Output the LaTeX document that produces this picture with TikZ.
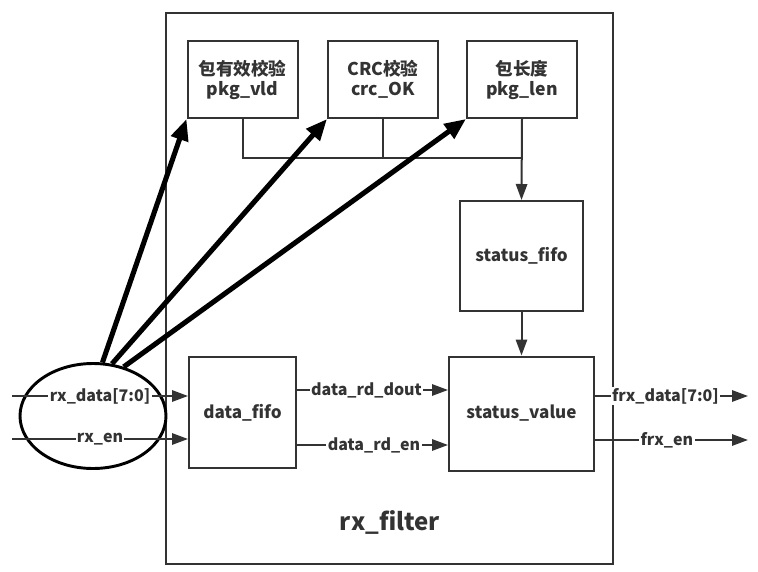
\documentclass[tikz,border=0pt]{standalone}
\usepackage{fontspec}
\setmainfont{Noto Sans CJK SC}
\usetikzlibrary{arrows.meta,shapes.geometric}
\definecolor{ink}{HTML}{333333}

\begin{document}
\begin{tikzpicture}[
    x=0.75pt, y=-0.75pt,
    font=\bfseries, text=ink,
    blk/.style={draw=ink, line width=1.5pt, align=center, inner sep=0pt,
        font=\bfseries\fontsize{12.8}{15}\selectfont},
    chk/.style={blk, minimum width=82.5pt, minimum height=57.75pt,
        font=\bfseries\fontsize{13.2}{15}\selectfont},
    bus/.style={draw=ink, line width=1.5pt},
    sig/.style={bus, -{Triangle[length=12pt,width=8.5pt]}},
    fat/.style={draw=black, line width=3.8pt, -{Triangle[length=16pt,width=13pt]}},
    lbl/.style={fill=white, inner sep=1pt, font=\bfseries\fontsize{12}{14}\selectfont},
]
\useasboundingbox (0,0) rectangle (758,572);

\node[draw=ink, line width=1.5pt, minimum width=335.25pt, minimum height=413.25pt] (filter) at (389.5,288.5) {};
\node[font=\bfseries\fontsize{18}{20}\selectfont] (title) at (390,522) {rx\_filter};

\node[chk] (vld) at (242.5,79.5) {包有效校验\\pkg\_vld};
\node[chk] (crc) at (383,79.5) {CRC校验\\crc\_OK};
\node[chk] (len) at (522,79.5) {包长度\\pkg\_len};

\node[blk, minimum width=92.25pt, minimum height=82.5pt] (sfifo) at (521.5,256) {status\_fifo};
\node[blk, minimum width=108.75pt, minimum height=85.5pt] (sval) at (521.5,413.5) {status\_value};
\node[blk, minimum width=80.25pt, minimum height=83.25pt] (dfifo) at (242.5,412.5) {data\_fifo};

\node[draw=black, ellipse, line width=2.2pt, minimum width=109.5pt, minimum height=78.75pt] (rx) at (93,416) {};

% status bus
\coordinate (tap) at (522,158);
\draw[bus] (vld.south) |- (tap);
\draw[bus] (crc.south) -- (crc.south |- tap);
\draw[sig] (len.south) -- (sfifo.north);
\draw[sig] (sfifo.south) -- (sval.north);

% checks fed from rx
\draw[fat] (rx.80) -- (vld.south west);
\draw[fat] (rx.70) -- (crc.south west);
\draw[fat] (rx.58) -- (len.south west);

% data path
\coordinate (rxd) at (12,396);
\coordinate (rxe) at (12,439);
\coordinate (rdd) at (0,390);
\coordinate (rde) at (0,445);
\coordinate (frxd) at (748,396);
\coordinate (frxe) at (748,440);

\draw[sig] (rxd) -- node[lbl]{rx\_data[7:0]} (rxd -| dfifo.west);
\draw[sig] (rxe) -- node[lbl]{rx\_en} (rxe -| dfifo.west);
\draw[sig] (dfifo.east |- rdd) -- node[lbl, pos=0.46]{data\_rd\_dout} (sval.west |- rdd);
\draw[sig] (dfifo.east |- rde) -- node[lbl, pos=0.51]{data\_rd\_en} (sval.west |- rde);
\draw[sig] (sval.east |- frxd) -- node[lbl, pos=0.46]{frx\_data[7:0]} (frxd);
\draw[sig] (sval.east |- frxe) -- node[lbl, pos=0.47]{frx\_en} (frxe);

\end{tikzpicture}
\end{document}
